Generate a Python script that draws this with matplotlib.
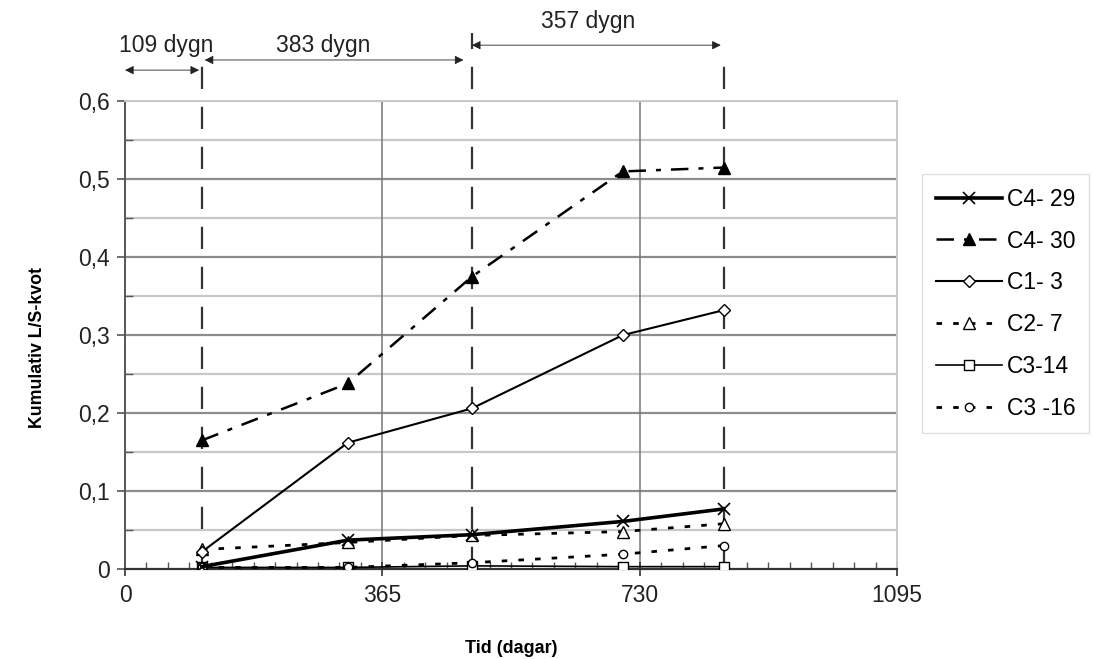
import numpy as np
import matplotlib
matplotlib.use("Agg")
import matplotlib.pyplot as plt
from matplotlib.ticker import MultipleLocator, FixedLocator

plt.rcParams['font.family'] = ['Liberation Sans', 'DejaVu Sans']

# ---------------- data ----------------
days = [109, 316, 492, 706, 849]
series_names = ["C4- 29", "C4- 30", "C1- 3", "C2- 7", "C3-14", "C3 -16"]
c4_29 = [0.003, 0.037, 0.044, 0.061, 0.077]
c4_30 = [0.165, 0.238, 0.375, 0.510, 0.515]
c1_3 = [0.022, 0.162, 0.206, 0.300, 0.332]
c2_7 = [0.025, 0.034, 0.043, 0.048, 0.058]
c3_14 = [0.002, 0.002, 0.004, 0.003, 0.003]
c3_16 = [0.002, 0.002, 0.008, 0.019, 0.030]
period_days = [109, 383, 357]
period_labels = ["109 dygn", "383 dygn", "357 dygn"]
x_ticks = [0, 365, 730, 1095]
y_ticks = [0, 0.1, 0.2, 0.3, 0.4, 0.5, 0.6]
y_tick_labels = ["0", "0,1", "0,2", "0,3", "0,4", "0,5", "0,6"]

FS = 16.5

fig = plt.figure(figsize=(10.93, 6.59), dpi=100)
fig.patch.set_facecolor('white')
ax = fig.add_axes([0.1144, 0.1366, 0.7063, 0.7097])
ax.set_xlim(0, 1095)
ax.set_ylim(0, 0.6)

# grid
for y in np.arange(0.05, 0.6, 0.1):
    ax.axhline(y, color='#c8c8c8', lw=1.6, zorder=0)
for y in [0.1, 0.2, 0.3, 0.4, 0.5]:
    ax.axhline(y, color='#8c8c8c', lw=1.6, zorder=0)
ax.axhline(0.6, color='#c8c8c8', lw=1.6, zorder=0)
for x in [365, 730]:
    ax.axvline(x, color='#777777', lw=1.1, zorder=0)

# dashed vertical period boundaries
bounds = np.cumsum(period_days)
ax.vlines(bounds[0], 0, 0.648, colors='#333333', lw=1.6, linestyles=(0, (10, 8)), clip_on=False, zorder=1)
ax.vlines(bounds[1], 0, 0.688, colors='#333333', lw=1.6, linestyles=(0, (10, 8)), clip_on=False, zorder=1)
ax.vlines(bounds[2], 0, 0.655, colors='#333333', lw=1.6, linestyles=(0, (10, 8)), clip_on=False, zorder=1)

# series
ax.plot(days, c4_29, color='black', lw=2.6, marker='x', ms=8, mew=1.2, label=series_names[0], zorder=5)
ax.plot(days, c4_30, color='black', lw=1.8, dashes=(7, 4, 2, 4), marker='^', ms=8, mfc='black', label=series_names[1], zorder=5)
ax.plot(days, c1_3, color='black', lw=1.5, marker='D', ms=6, mfc='white', mew=1, label=series_names[2], zorder=5)
ax.plot(days, c2_7, color='black', lw=2.0, dashes=(2, 4), marker='^', ms=8, mfc='white', mew=1, label=series_names[3], zorder=4)
ax.plot(days, c3_14, color='black', lw=1.2, marker='s', ms=7, mfc='white', mew=1, label=series_names[4], zorder=4)
ax.plot(days, c3_16, color='black', lw=2.0, dashes=(2, 4), marker='o', ms=6, mfc='white', mew=1, label=series_names[5], zorder=4)

# axes styling
for s in ['top', 'right']:
    ax.spines[s].set_color('#c8c8c8')
    ax.spines[s].set_linewidth(1.4)
ax.spines['left'].set_color('#555555')
ax.spines['bottom'].set_color('#333333')
ax.spines['left'].set_linewidth(1.4)
ax.spines['bottom'].set_linewidth(1.6)

ax.xaxis.set_major_locator(FixedLocator(x_ticks))
ax.set_xticklabels([str(v) for v in x_ticks])
ax.xaxis.set_minor_locator(MultipleLocator(365 / 12))
ax.yaxis.set_major_locator(FixedLocator(y_ticks))
ax.set_yticklabels(y_tick_labels)
ax.yaxis.set_minor_locator(MultipleLocator(0.05))
ax.tick_params(axis='x', which='major', direction='inout', length=10, width=1.2, labelsize=FS, pad=6, colors='#333333', labelcolor='#222222')
ax.tick_params(axis='x', which='minor', direction='in', length=5, width=1, colors='#555555')
ax.tick_params(axis='y', which='major', direction='out', length=6, width=1.2, labelsize=FS, pad=5, colors='#555555', labelcolor='#222222')
ax.tick_params(axis='y', which='minor', direction='in', length=6, width=1, colors='#555555')

ax.set_xlabel("Tid (dagar)", fontsize=13, fontweight='bold', labelpad=23.5)
ax.set_ylabel("Kumulativ L/S-kvot", fontsize=12.8, fontweight='bold')
ax.yaxis.set_label_coords(-0.102, 0.474)

# period arrows and labels
arrow_kw = dict(arrowstyle='<|-|>', color='#222222', lw=0.6, mutation_scale=13, shrinkA=0, shrinkB=0)
starts = np.concatenate([[0], bounds[:-1]])
arrow_y = [0.640, 0.653, 0.672]
text_y = [0.671, 0.671, 0.703]
text_shift = [4, -20, -14]
for i, (a, b) in enumerate(zip(starts, bounds)):
    a2 = a + (4 if i == 1 else 0)
    b2 = b - (12 if i == 1 else 4)
    ax.annotate('', xy=(a2, arrow_y[i]), xytext=(b2, arrow_y[i]), arrowprops=arrow_kw,
                annotation_clip=False)
    ax.text((a + b) / 2 + text_shift[i], text_y[i], period_labels[i], ha='center', va='center',
            fontsize=FS, color='#222222', clip_on=False)

# legend
leg = fig.legend(loc='upper left', bbox_to_anchor=(0.8435, 0.736), frameon=True, fontsize=FS,
                 handlelength=2.9, labelspacing=0.82, borderpad=0.6, handletextpad=0.2,
                 fancybox=False, borderaxespad=0)
leg.get_frame().set_edgecolor('#d8d8d8')
leg.get_frame().set_linewidth(1.0)

fig.savefig("out.png", dpi=100, facecolor='white')
